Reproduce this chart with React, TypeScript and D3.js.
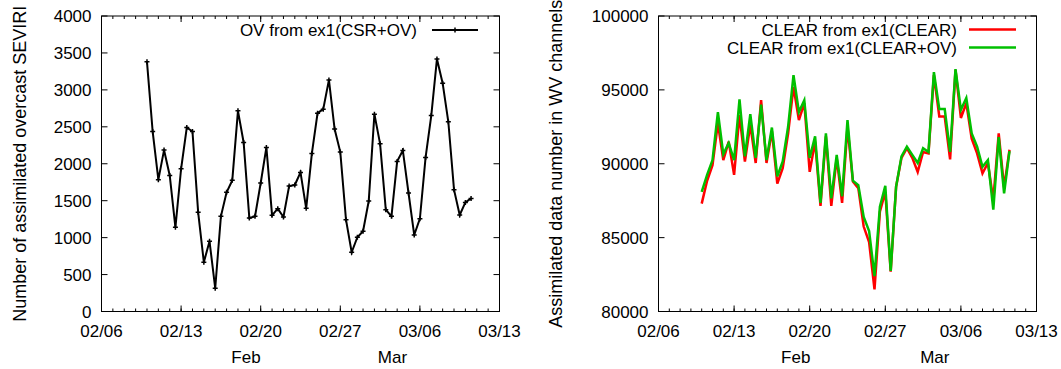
import React from "react";
import * as d3 from "d3";

// Time axis: 12-hourly analyses from 2014-02-10 00 UTC
const START_TIME = new Date(2014, 1, 10, 0, 0);
const STEP_HOURS = 12;

// Left panel: number of assimilated overcast SEVIRI (OV from ex1(CSR+OV))
const ovCount = [
  3380, 2435, 1785, 2185, 1842, 1140, 1932, 2490, 2437, 1342,
  668, 950, 315, 1288, 1613, 1775, 2716, 2288, 1266, 1288,
  1739, 2221, 1302, 1392, 1279, 1698, 1712, 1883, 1396, 2140,
  2685, 2739, 3135, 2469, 2158, 1243, 802, 1005, 1086, 1495,
  2671, 2270, 1378, 1288, 2032, 2180, 1604, 1036, 1257, 2086,
  2653, 3419, 3090, 2568, 1649, 1306, 1477, 1531,
];

// Right panel: assimilated data number in WV channels
const clearFromClear = [
  87300, 88850, 89900, 92750, 90250, 91500, 89250, 93300, 90150, 92650,
  90050, 94300, 90050, 92200, 88650, 89700, 92050, 95200, 92950, 94100,
  89450, 91500, 87150, 91850, 87150, 90400, 87350, 92500, 88800, 88350,
  85750, 84700, 81500, 86750, 88100, 82700, 88450, 90400, 91050, 90400,
  89450, 90800, 90700, 96000, 93200, 93200, 90300, 96350, 93100, 94100,
  91700, 90700, 89350, 90050, 87550, 92050, 88400, 90950,
];
const clearFromClearOv = [
  88100, 89250, 90250, 93500, 90650, 91400, 90250, 94350, 90500, 93350,
  90400, 94000, 90250, 92450, 89150, 90150, 92500, 96000, 93500, 94300,
  90400, 91850, 87350, 92050, 87650, 90600, 87800, 92950, 88850, 88550,
  86400, 85450, 82400, 87100, 88500, 82750, 88450, 90500, 91150, 90600,
  90050, 91050, 90800, 96200, 93700, 93700, 90800, 96400, 93650, 94450,
  92050, 91150, 89800, 90250, 86900, 91800, 88000, 90850,
];

const xDomain: [Date, Date] = [new Date(2014, 1, 6), new Date(2014, 2, 13)];
const xTickLabels = ["02/06", "02/13", "02/20", "02/27", "03/06", "03/13"];
const monthLabels = [
  { label: "Feb", date: new Date(2014, 1, 18, 17) },
  { label: "Mar", date: new Date(2014, 2, 3, 14) },
];
const leftYTicks = [0, 500, 1000, 1500, 2000, 2500, 3000, 3500, 4000];
const rightYTicks = [80000, 85000, 90000, 95000, 100000];

const times = ovCount.map((_, i) => d3.timeHour.offset(START_TIME, i * STEP_HOURS));

const FONT = "'Liberation Sans', Arial, Helvetica, sans-serif";
const FS = 17;
const FS_LABEL = 18;

type Series = { name: string; values: number[]; color: string; width: number; markers?: boolean };

function Panel(props: {
  left: number; right: number; top: number; bottom: number;
  yDomain: [number, number]; yTicks: number[]; yLabel: string; yLabelX: number;
  series: Series[]; legendTextEnd: number; legendLine: [number, number]; legendY: number[];
}) {
  const { left, right, top, bottom } = props;
  const x = d3.scaleTime().domain(xDomain).range([left, right]);
  const y = d3.scaleLinear().domain(props.yDomain).range([bottom, top]);
  const parse = d3.timeParse("%Y/%m/%d");
  const majorDates = xTickLabels.map((s) => parse("2014/" + s) as Date);
  const minorDates = d3.timeDay.range(xDomain[0], d3.timeDay.offset(xDomain[1], 1));
  const line = d3.line<number>().x((_, i) => x(times[i])).y((d) => y(d));
  const major = 6;
  const minor = 3;
  const mk = 2.5;
  return (
    <g>
      {props.yTicks.map((t) => (
        <g key={"y" + t}>
          <line x1={left} x2={left + major} y1={y(t)} y2={y(t)} stroke="#000" />
          <line x1={right} x2={right - major} y1={y(t)} y2={y(t)} stroke="#000" />
          <text x={left - 10} y={y(t) + 6} textAnchor="end" fontFamily={FONT} fontSize={FS}>{t}</text>
        </g>
      ))}
      {minorDates.map((d, i) => (
        <g key={"m" + i}>
          <line x1={x(d)} x2={x(d)} y1={bottom} y2={bottom - minor} stroke="#000" />
          <line x1={x(d)} x2={x(d)} y1={top} y2={top + minor} stroke="#000" />
        </g>
      ))}
      {majorDates.map((d, i) => (
        <g key={"M" + i}>
          <line x1={x(d)} x2={x(d)} y1={bottom} y2={bottom - major} stroke="#000" />
          <line x1={x(d)} x2={x(d)} y1={top} y2={top + major} stroke="#000" />
          <text x={x(d)} y={337} textAnchor="middle" fontFamily={FONT} fontSize={FS}>{xTickLabels[i]}</text>
        </g>
      ))}
      {monthLabels.map((m) => (
        <text key={m.label} x={x(m.date)} y={363} textAnchor="middle" fontFamily={FONT} fontSize={FS}>{m.label}</text>
      ))}
      <text transform={`translate(${props.yLabelX},${(top + bottom) / 2}) rotate(-90)`} textAnchor="middle" fontFamily={FONT} fontSize={FS_LABEL}>{props.yLabel}</text>
      {props.series.map((s) => (
        <g key={s.name}>
          <path d={line(s.values) || ""} fill="none" stroke={s.color} strokeWidth={s.width} strokeLinejoin="miter" />
          {s.markers && s.values.map((v, i) => {
            const cx = x(times[i]);
            const cy = y(v);
            return (
              <path key={i} d={`M${cx - mk},${cy}H${cx + mk}M${cx},${cy - mk}V${cy + mk}`} stroke={s.color} strokeWidth={1.5} />
            );
          })}
        </g>
      ))}
      {props.series.map((s, i) => {
        const ly = props.legendY[i];
        const [lx1, lx2] = props.legendLine;
        const mx = (lx1 + lx2) / 2;
        return (
          <g key={"lg" + s.name}>
            <text x={props.legendTextEnd} y={ly + 6} textAnchor="end" fontFamily={FONT} fontSize={FS}>{s.name}</text>
            <line x1={lx1} x2={lx2} y1={ly} y2={ly} stroke={s.color} strokeWidth={s.width} />
            {s.markers && <path d={`M${mx - mk},${ly}H${mx + mk}M${mx},${ly - mk}V${ly + mk}`} stroke={s.color} strokeWidth={1.5} />}
          </g>
        );
      })}
      <rect x={left} y={top} width={right - left} height={bottom - top} fill="none" stroke="#000" strokeWidth={1} />
    </g>
  );
}

export default function App() {
  return (
    <svg width={1061} height={369} style={{ position: "absolute", left: 0, top: 0, background: "#fff" }}>
      <rect width={1061} height={369} fill="#fff" />
      <Panel
        left={101.5} right={499.5} top={16} bottom={311.5}
        yDomain={[0, 4000]} yTicks={leftYTicks}
        yLabel="Number of assimilated overcast SEVIRI" yLabelX={26}
        series={[{ name: "OV from ex1(CSR+OV)", values: ovCount, color: "#000", width: 2, markers: true }]}
        legendTextEnd={417} legendLine={[432, 478]} legendY={[30]}
      />
      <Panel
        left={658.5} right={1036.5} top={16} bottom={311.5}
        yDomain={[80000, 100000]} yTicks={rightYTicks}
        yLabel="Assimilated data number in WV channels" yLabelX={562}
        series={[
          { name: "CLEAR from ex1(CLEAR)", values: clearFromClear, color: "#ff0000", width: 2.5 },
          { name: "CLEAR from ex1(CLEAR+OV)", values: clearFromClearOv, color: "#00c000", width: 2.5 },
        ]}
        legendTextEnd={957} legendLine={[969, 1016]} legendY={[29.5, 47.5]}
      />
    </svg>
  );
}
